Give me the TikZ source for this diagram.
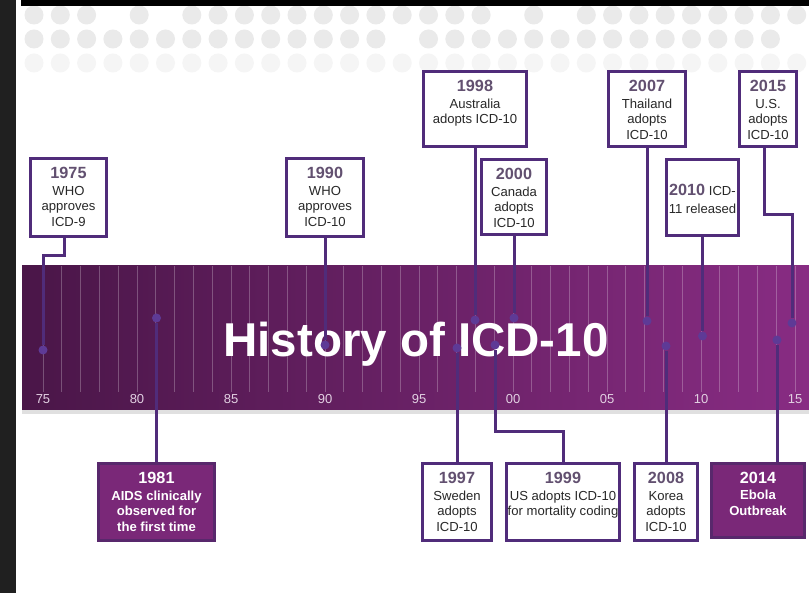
\documentclass[tikz,border=0pt]{standalone}
\usepackage{fontspec}
\setmainfont{Liberation Sans}
\usepackage{tikz}
\usetikzlibrary{positioning,shadows}
\definecolor{evline}{RGB}{80,44,122}
\definecolor{dotcol}{RGB}{94,58,150}
\definecolor{yrtext}{RGB}{98,80,112}
\definecolor{desctext}{RGB}{40,40,40}
\definecolor{bandleft}{RGB}{74,22,72}
\definecolor{bandright}{RGB}{136,44,131}
\definecolor{evfillc}{RGB}{122,40,120}
\definecolor{evfillb}{RGB}{88,40,108}
\definecolor{ticklab}{RGB}{226,208,226}
\definecolor{bgdot}{RGB}{234,234,234}
\definecolor{bgdotlight}{RGB}{245,245,245}
\definecolor{sidebar}{RGB}{32,32,32}
\newcommand{\descfont}{\fontsize{13.1}{15.5}\selectfont}
\newcommand{\yr}[1]{\leavevmode{\fontsize{16.2}{17}\selectfont\bfseries\color{yrtext}#1}}
\newcommand{\yrw}[1]{\leavevmode{\fontsize{16.2}{17}\selectfont\bfseries #1}}

\begin{document}
\begin{tikzpicture}[
  x=1pt, y=-1pt,
  evbox/.style 2 args={rectangle, draw=evline, line width=3pt, fill=white, text=desctext, inner sep=0pt,
    drop shadow={shadow xshift=1.5pt, shadow yshift=-1.5pt, opacity=0.25},
    execute at begin node={\begin{minipage}[c][\dimexpr#2pt-3pt\relax][t]{\dimexpr#1pt-3pt\relax}\centering\descfont\vspace*{8.5pt}},
    execute at end node={\end{minipage}}},
  evfill/.style 2 args={evbox={#1}{#2}, fill=evfillc, draw=evfillb, text=white, font=\bfseries},
  conn/.style={draw=evline, line width=3pt},
  evdot/.style={circle, fill=dotcol, inner sep=0pt, minimum size=9pt},
  tickline/.style={draw=white, opacity=0.25, line width=0.8pt},
  ticklabel/.style={text=ticklab, font=\fontsize{13}{14}\selectfont, inner sep=0pt},
  titletext/.style={text=white, font=\fontsize{47.5}{50}\selectfont\bfseries, inner sep=0pt}
]
  \useasboundingbox (0,0) rectangle (809,593);
  \fill[white] (0,0) rectangle (809,593);

  % background dots
  \foreach \i in {0,1,2,4,6,7,...,17,19,21,22,...,29}
    \fill[bgdot] ({34+26.3*\i},15) circle (9.5pt);
  \foreach \i in {0,...,13,15,16,...,28}
    \fill[bgdot] ({34+26.3*\i},39) circle (9.5pt);
  \foreach \i in {0,...,29}
    \fill[bgdotlight] ({34+26.3*\i},63) circle (9.5pt);
  \fill[sidebar] (0,0) rectangle (16,593);
  \fill[black] (21,0) rectangle (809,6);

  % timeline band
  \fill[black!12] (22,410) rectangle (809,414);
  \fill[left color=bandleft, right color=bandright] (22,266) rectangle (809,410);
  \foreach \n in {0,...,40}
    \draw[tickline] ({43+18.8*\n},266) -- ++(0,126);
  \foreach \n/\lab in {0/75,5/80,10/85,15/90,20/95,25/00,30/05,35/10,40/15}
    \node[ticklabel] (t\n) at ({43+18.8*\n},399) {\lab};
  \node[titletext, anchor=base] (title) at (416,357) {History of ICD-10};

  % events above
  \node[evbox={79}{81}] (b1975) at (68.5,197.5) {\yr{1975}\\[1.5pt] WHO\\ approves\\ ICD-9};
  \node[evbox={80}{81}] (b1990) at (325,197.5) {\yr{1990}\\[1.5pt] WHO\\ approves\\ ICD-10};
  \node[evbox={106}{78}] (b1998) at (475,109) {\yr{1998}\\[1.5pt] Australia\\ adopts ICD-10};
  \node[evbox={68}{78}] (b2000) at (514,197) {\yr{2000}\\[1.5pt] Canada\\ adopts\\ ICD-10};
  \node[evbox={80}{78}] (b2007) at (647,109) {\yr{2007}\\[1.5pt] Thailand\\ adopts\\ ICD-10};
  \node[evbox={75}{79}] (b2010) at (702.5,197.5) {\vspace*{16pt}\yr{2010}~ICD-\\[2.5pt] 11 released};
  \node[evbox={60}{78}] (b2015) at (768,109) {\yr{2015}\\[1.5pt] U.S.\\ adopts\\ ICD-10};

  % events below
  \node[evfill={119}{80}] (b1981) at (156.5,502) {\yrw{1981}\\[1.5pt] AIDS clinically\\ observed for\\ the first time};
  \node[evbox={72}{80}] (b1997) at (457,502) {\yr{1997}\\[1.5pt] Sweden\\ adopts\\ ICD-10};
  \node[evbox={116}{80}] (b1999) at (563,502) {\yr{1999}\\[1.5pt] US adopts ICD-10\\ for mortality coding};
  \node[evbox={66}{80}] (b2008) at (666,502) {\yr{2008}\\[1.5pt] Korea\\ adopts\\ ICD-10};
  \node[evfill={96}{77}] (b2014) at (758,500.5) {\yrw{2014}\\[1pt] Ebola\\ Outbreak};

  % markers on the band
  \node[evdot] (d1975) at (43,350) {};
  \node[evdot] (d1981) at (156.5,318) {};
  \node[evdot] (d1990) at (325,345) {};
  \node[evdot] (d1997) at (457,348) {};
  \node[evdot] (d1998) at (475,320) {};
  \node[evdot] (d1999) at (495,345) {};
  \node[evdot] (d2000) at (514,318) {};
  \node[evdot] (d2007) at (647,321) {};
  \node[evdot] (d2008) at (666,346) {};
  \node[evdot] (d2010) at (702.5,336) {};
  \node[evdot] (d2014) at (777,340) {};
  \node[evdot] (d2015) at (792,323) {};

  \draw[conn] ([xshift=-4pt]b1975.south) -- ++(0,18) -| (d1975);
  \draw[conn] (b1990.south) -- (d1990);
  \draw[conn] (b1998.south) -- (d1998);
  \draw[conn] (b2000.south) -- (d2000);
  \draw[conn] (b2007.south) -- (d2007);
  \draw[conn] (b2010.south) -- (d2010);
  \draw[conn] ([xshift=-4pt]b2015.south) -- ++(0,67) -| (d2015);
  \draw[conn] (b1981.north) -- (d1981);
  \draw[conn] (b1997.north) -- (d1997);
  \draw[conn] (b1999.north) -- ++(0,-30) -| (d1999);
  \draw[conn] (b2008.north) -- (d2008);
  \draw[conn] (d2014) -- (d2014 |- b2014.north);
\end{tikzpicture}
\end{document}
